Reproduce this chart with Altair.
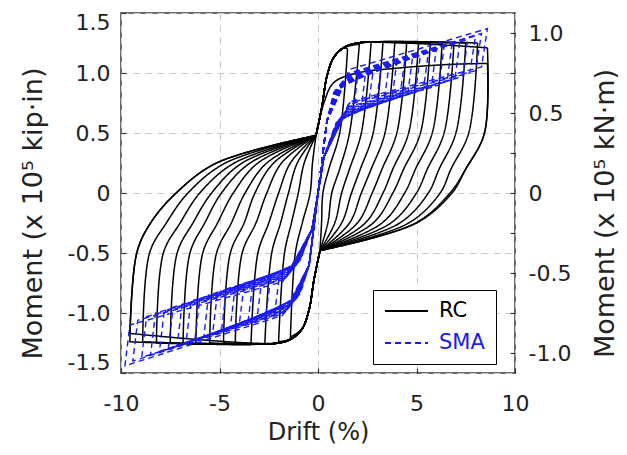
import altair as alt
import pandas as pd

# ---------------- RC (black, solid) hysteresis loops ----------------
# key points, one entry per loop
rc_pos_peak_d = [1.5, 2.1, 2.7, 3.3, 3.9, 4.5, 5.1, 5.7, 6.3, 6.9, 7.5, 8.1, 8.6, 8.6]
rc_pos_peak_m = [1.20, 1.24, 1.26, 1.26, 1.26, 1.25, 1.25, 1.25, 1.25, 1.25, 1.25, 1.25, 1.21, 1.08]
rc_pos_half_d = [1.1, 1.6, 2.2, 2.8, 3.4, 4.0, 4.6, 5.2, 5.8, 6.4, 7.0, 7.65, 8.45, 8.45]   # moment 0.5
rc_pos_low_d = [0.55, 1.1, 1.6, 2.15, 2.7, 3.25, 3.8, 4.35, 4.95, 5.55, 6.15, 6.75, 7.5, 7.5]  # moment 0.2
rc_pos_zero_d = [0.25, 0.7, 1.2, 1.7, 2.2, 2.75, 3.3, 3.8, 4.4, 5.0, 5.6, 6.2, 6.7, 6.8]     # moment 0
rc_pos_fan_d = [0.18, 0.5, 0.85, 1.2, 1.6, 2.0, 2.4, 2.8, 3.25, 3.7, 4.15, 4.6, 4.95, 5.0]   # moment -0.25
rc_pos_levels = [0.5, 0.2, 0.0, -0.25]

rc_neg_peak_d = [-1.4, -2.0, -2.7, -3.4, -4.2, -4.8, -5.5, -6.2, -6.85, -7.5, -8.2, -8.9, -9.55, -9.55]
rc_neg_peak_m = [-1.20, -1.24, -1.26, -1.26, -1.25, -1.25, -1.25, -1.25, -1.25, -1.25, -1.25, -1.24, -1.24, -1.17]
rc_neg_half_d = [-1.15, -1.7, -2.35, -3.05, -3.85, -4.45, -5.15, -5.85, -6.5, -7.15, -7.85, -8.55, -9.2, -9.2]  # -0.5
rc_neg_low_d = [-0.8, -1.35, -1.9, -2.5, -3.15, -3.75, -4.4, -5.1, -5.75, -6.35, -7.0, -7.7, -8.5, -8.5]      # -0.25
rc_neg_zero_d = [-0.4, -1.0, -1.5, -2.0, -2.6, -3.2, -3.7, -4.3, -4.9, -5.4, -6.0, -6.6, -7.2, -7.2]          # 0
rc_neg_fan_d = [-0.28, -0.7, -1.05, -1.4, -1.85, -2.25, -2.6, -3.05, -3.45, -3.85, -4.25, -4.7, -5.15, -5.15]  # 0.25
rc_neg_levels = [-0.5, -0.25, 0.0, 0.25]

# pinched reloading branches shared by all loops (first point = pinch corner)
rc_back_pos_d = [-0.1, 0.2, 0.45, 0.8, 1.3, 2.0]
rc_back_pos_m = [0.48, 0.72, 0.97, 1.13, 1.21, 1.25]
rc_back_neg_d = [0.1, -0.2, -0.45, -0.8, -1.3, -2.0]
rc_back_neg_m = [-0.48, -0.72, -0.97, -1.13, -1.21, -1.25]
# reloading branch of the last (second) cycle
rc_cycle2_d = [-0.1, 0.3, 0.8, 2.0, 4.0, 6.5]
rc_cycle2_m = [0.48, 0.75, 0.92, 1.0, 1.04, 1.07]

# ---------------- SMA (blue, dashed) flag-shaped loops ----------------
sma_start_d = [0.0, 0.45]
sma_start_m = [0.0, 0.60]
sma_pos_knee_d = [0.8, 0.85, 0.9, 0.95, 1.0, 1.05, 1.1, 1.15, 1.2, 1.25, 1.3, 1.35, 1.4, 1.45, 1.5, 1.55, 1.6, 1.6]
sma_pos_knee_m = [0.84, 0.85, 0.86, 0.87, 0.88, 0.89, 0.90, 0.91, 0.92, 0.93, 0.94, 0.95, 0.96, 0.97, 0.98, 0.99, 1.00, 1.03]
sma_pos_peak_d = [2.0, 2.4, 2.8, 3.2, 3.6, 4.0, 4.4, 4.8, 5.2, 5.6, 6.0, 6.4, 6.8, 7.2, 7.6, 8.0, 8.3, 8.6]
sma_pos_peak_m = [0.96, 0.99, 1.02, 1.04, 1.06, 1.09, 1.10, 1.13, 1.15, 1.17, 1.19, 1.22, 1.24, 1.26, 1.28, 1.31, 1.33, 1.37]
sma_pos_ret_d = [1.8, 2.2, 2.55, 2.95, 3.35, 3.75, 4.15, 4.55, 4.95, 5.35, 5.75, 6.15, 6.55, 6.95, 7.35, 7.7, 8.0, 8.3]
sma_pos_ret_m = [0.68, 0.70, 0.72, 0.74, 0.76, 0.78, 0.80, 0.82, 0.84, 0.86, 0.88, 0.90, 0.93, 0.95, 0.97, 1.00, 1.02, 1.05]
sma_pos_end_d = [0.9, 0.95, 1.0, 1.05, 1.1, 1.15, 1.2, 1.25, 1.3, 1.35, 1.4, 1.45, 1.5, 1.5, 1.55, 1.6, 1.6, 1.6]
sma_pos_end_m = [0.58, 0.59, 0.60, 0.61, 0.62, 0.63, 0.64, 0.65, 0.66, 0.67, 0.68, 0.69, 0.70, 0.71, 0.72, 0.74, 0.75, 0.76]
sma_mid_d = [0.3, 0.0, -0.45]
sma_mid_m = [0.30, 0.0, -0.60]
sma_neg_knee_d = [-0.9, -0.95, -1.0, -1.05, -1.1, -1.15, -1.2, -1.25, -1.3, -1.35, -1.4, -1.45, -1.5, -1.55, -1.6, -1.65, -1.7, -1.8]
sma_neg_knee_m = [-0.84, -0.85, -0.86, -0.87, -0.88, -0.89, -0.90, -0.91, -0.92, -0.93, -0.94, -0.95, -0.96, -0.97, -0.98, -0.99, -1.00, -1.02]
sma_neg_peak_d = [-2.2, -2.65, -3.1, -3.55, -4.0, -4.45, -4.9, -5.35, -5.8, -6.25, -6.7, -7.15, -7.6, -8.05, -8.5, -8.95, -9.4, -9.8]
sma_neg_peak_m = [-1.00, -1.02, -1.05, -1.07, -1.10, -1.12, -1.15, -1.17, -1.20, -1.22, -1.25, -1.27, -1.30, -1.32, -1.35, -1.37, -1.40, -1.44]
sma_neg_ret_d = [-1.95, -2.4, -2.85, -3.3, -3.75, -4.2, -4.65, -5.1, -5.55, -6.0, -6.45, -6.9, -7.35, -7.8, -8.25, -8.7, -9.15, -9.55]
sma_neg_ret_m = [-0.68, -0.70, -0.72, -0.74, -0.76, -0.78, -0.80, -0.83, -0.85, -0.88, -0.90, -0.93, -0.95, -0.98, -1.00, -1.03, -1.06, -1.10]
sma_neg_end_d = [-0.9, -0.95, -1.0, -1.05, -1.1, -1.15, -1.2, -1.25, -1.3, -1.35, -1.4, -1.45, -1.5, -1.55, -1.6, -1.65, -1.7, -1.8]
sma_neg_end_m = [-0.56, -0.57, -0.58, -0.59, -0.60, -0.61, -0.62, -0.63, -0.64, -0.65, -0.66, -0.67, -0.68, -0.69, -0.70, -0.71, -0.72, -0.74]
sma_finish_d = [-0.3, 0.0]
sma_finish_m = [-0.30, 0.0]

left_ticks = [-1.5, -1.0, -0.5, 0.0, 0.5, 1.0, 1.5]
right_ticks = [-1.0, -0.75, -0.5, -0.25, 0.0, 0.25, 0.5, 0.75, 1.0]
x_ticks = [-10, -5, 0, 5, 10]

rows = []
for i in range(len(rc_pos_peak_d)):
    pts = [(rc_pos_peak_d[i], rc_pos_peak_m[i])]
    pos_ds = [rc_pos_half_d[i], rc_pos_low_d[i], rc_pos_zero_d[i], rc_pos_fan_d[i]]
    pts += list(zip(pos_ds, rc_pos_levels))
    neg_back = [(d, m) for d, m in zip(rc_back_neg_d, rc_back_neg_m) if d > rc_neg_peak_d[i] + 0.15]
    pts += [neg_back[0]] + neg_back          # sharp pinch corner
    pts += [(rc_neg_peak_d[i], rc_neg_peak_m[i])] * 2   # sharp peak corner
    neg_ds = [rc_neg_half_d[i], rc_neg_low_d[i], rc_neg_zero_d[i], rc_neg_fan_d[i]]
    pts += list(zip(neg_ds, rc_neg_levels))
    if i == len(rc_pos_peak_d) - 1:
        back = zip(rc_cycle2_d, rc_cycle2_m)
    else:
        back = zip(rc_back_pos_d, rc_back_pos_m)
    pos_back = [(d, m) for d, m in back if d < rc_pos_peak_d[i] - 0.15]
    pts += [pos_back[0]] + pos_back
    pts.append((rc_pos_peak_d[i], rc_pos_peak_m[i]))
    for k, (d, m) in enumerate(pts):
        rows.append({"series": "RC", "loop": f"RC{i}", "k": k, "drift": d, "moment": m})

for i in range(len(sma_pos_peak_d)):
    pts = list(zip(sma_start_d, sma_start_m))
    pts += [(sma_pos_knee_d[i], sma_pos_knee_m[i]), (sma_pos_peak_d[i], sma_pos_peak_m[i]),
            (sma_pos_ret_d[i], sma_pos_ret_m[i]), (sma_pos_end_d[i], sma_pos_end_m[i])]
    pts += list(zip(sma_mid_d, sma_mid_m))
    pts += [(sma_neg_knee_d[i], sma_neg_knee_m[i]), (sma_neg_peak_d[i], sma_neg_peak_m[i]),
            (sma_neg_ret_d[i], sma_neg_ret_m[i]), (sma_neg_end_d[i], sma_neg_end_m[i])]
    pts += list(zip(sma_finish_d, sma_finish_m))
    for k, (d, m) in enumerate(pts):
        rows.append({"series": "SMA", "loop": f"SMA{i}", "k": k, "drift": d, "moment": m})

df = pd.DataFrame(rows)

FONT = "DejaVu Sans"
BLUE = "#1a1aff"

x_axis = alt.Axis(
    values=x_ticks, title="Drift (%)", offset=-5, tickSize=5, labelPadding=20, labelFlush=False,
    labelExpr="(datum.value < 0 ? '-' : '') + abs(datum.value)",
    grid=True, gridDash=[7, 5], gridColor="#c8c8c8", domain=False,
    titleX=197, titleY=64, titleBaseline="middle", titleFontSize=24,
)
y_axis = alt.Axis(
    values=left_ticks, title="Moment (x 10\u2075 kip\u00b7in)", offset=-5, tickSize=5, labelPadding=11,
    labelFlush=True, labelFlushOffset=1,
    labelExpr="datum.value == 0 ? '0' : (datum.value < 0 ? '-' : '') + format(abs(datum.value), '.1f')",
    grid=True, gridDash=[7, 5], gridColor="#c8c8c8", domain=False,
    titleX=-93, titleY=200, titleAngle=270, titleAlign="center", titleBaseline="middle", titleFontSize=27,
)

legend = alt.Legend(
    orient="none", legendX=252, legendY=277, title=None,
    symbolType="stroke", symbolSize=1849, symbolStrokeWidth=2,
    labelFontSize=21, labelFont=FONT, labelOffset=10,
    labelColor={"expr": "datum.label == 'SMA' ? '#1a1aff' : 'black'"},
    strokeColor="black", fillColor="white", padding=11, rowPadding=11, clipHeight=20,
)

x_enc = alt.X("drift:Q", scale=alt.Scale(domain=[-10, 10], nice=False, zero=False), axis=x_axis)
y_enc = alt.Y("moment:Q", scale=alt.Scale(domain=[-1.5, 1.5], nice=False, zero=False), axis=y_axis)
color_enc = alt.Color("series:N", scale=alt.Scale(domain=["RC", "SMA"], range=["black", BLUE]), legend=legend)
dash_enc = alt.StrokeDash("series:N", scale=alt.Scale(domain=["RC", "SMA"], range=[[1, 0], [6, 4]]), legend=legend)

base = alt.Chart(df)
rc_layer = base.transform_filter("datum.series == 'RC'").mark_line(
    interpolate="catmull-rom", strokeWidth=1.5
).encode(x=x_enc, y=y_enc, color=color_enc, strokeDash=dash_enc, detail="loop:N", order="k:Q")
sma_layer = base.transform_filter("datum.series == 'SMA'").mark_line(
    strokeWidth=1.4
).encode(x=x_enc, y=y_enc, color=color_enc, strokeDash=dash_enc, detail="loop:N", order="k:Q")

right_df = pd.DataFrame({"si": right_ticks})
right_layer = alt.Chart(right_df).mark_point(opacity=0).encode(
    y=alt.Y("si:Q", scale=alt.Scale(domain=[-1.125, 1.125], nice=False, zero=False),
            axis=alt.Axis(
                orient="right", values=right_ticks, title="Moment (x 10\u2075 kN\u00b7m)",
                offset=-5, tickSize=5, labelPadding=13, grid=False, domain=False, labelFlush=False,
                labelExpr="abs(datum.value * 2 - round(datum.value * 2)) < 0.001 ? (datum.value == 0 ? '0' : (datum.value < 0 ? '-' : '') + format(abs(datum.value), '.1f')) : ''",
                titleX=95, titleY=200, titleAngle=270, titleAlign="center", titleBaseline="middle", titleFontSize=27,
            ))
)

chart = alt.layer(alt.layer(rc_layer, sma_layer), right_layer).resolve_scale(y="independent").properties(
    width=394, height=360,
    padding={"left": 113, "top": 5, "right": 104, "bottom": 74},
    autosize=alt.AutoSizeParams(type="none"),
).configure_view(
    stroke="#3a3a3a", strokeWidth=1.5
).configure_axis(
    labelFont=FONT, titleFont=FONT, labelFontSize=22, labelColor="#222", titleColor="#222",
    titleFontWeight="normal", tickColor="#333", tickWidth=1.2,
)

chart.save("out.html", embed_options={"renderer": "svg", "actions": False})
